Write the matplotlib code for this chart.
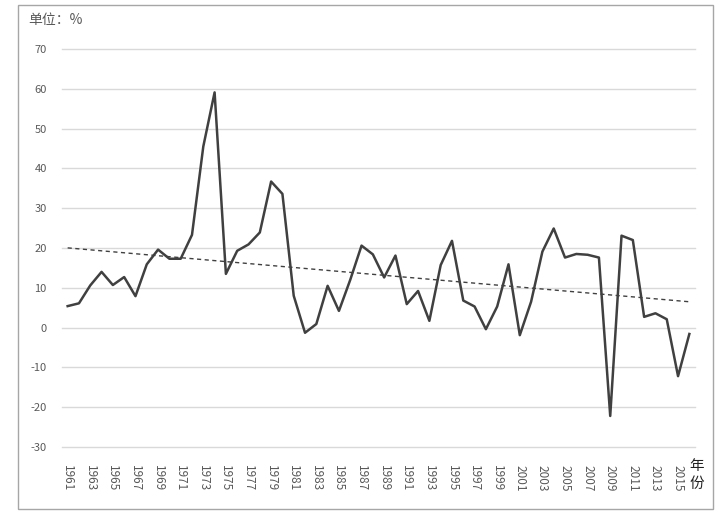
import numpy as np
import matplotlib
matplotlib.use("Agg")
import matplotlib.pyplot as plt
from matplotlib.patches import Rectangle

plt.rcParams['font.family'] = ['Noto Sans CJK SC', 'DejaVu Sans']

# yearly growth rate, %
years = list(range(1961, 2017))
values = [5.4, 6.1, 10.6, 14.0, 10.7, 12.7, 7.9, 15.9, 19.6, 17.3,
          17.3, 23.3, 45.5, 59.1, 13.5, 19.3, 20.9, 23.9, 36.7, 33.6,
          8.0, -1.3, 0.9, 10.5, 4.2, 12.0, 20.6, 18.4, 12.6, 18.1,
          5.9, 9.2, 1.7, 15.7, 21.8, 6.8, 5.3, -0.4, 5.3, 15.9,
          -1.9, 6.5, 19.1, 24.9, 17.6, 18.5, 18.3, 17.6, -22.2, 23.1,
          22.0, 2.7, 3.6, 2.1, -12.2, -1.6]
yticks = [-30, -20, -10, 0, 10, 20, 30, 40, 50, 60, 70]

x = np.arange(len(years))
# linear trend line, like excel's
coef = np.polyfit(x, values, 1)
trend = np.polyval(coef, x)

fig = plt.figure(figsize=(7.24, 5.18), dpi=100)
ax = fig.add_axes([62 / 724, 1 - 447 / 518, 633 / 724, 398 / 518])

for yt in yticks:
    ax.axhline(yt, color='#d9d9d9', lw=1.0, zorder=0, clip_on=False)

ax.plot(x, values, color='#404040', lw=1.8, zorder=3)
ax.plot(x, trend, color='#404040', lw=1.0, ls=(0, (3, 2.5)), zorder=2)

ax.set_xlim(-0.5, len(years) - 0.5)
ax.set_ylim(-30, 70)
ax.set_yticks(yticks)
ax.set_yticklabels([str(v) for v in yticks])
ax.set_xticks(x[::2])
ax.set_xticklabels([str(y) for y in years[::2]], rotation=-90)
ax.tick_params(axis='y', length=0, pad=11, labelsize=8, labelcolor='#595959')
ax.tick_params(axis='x', length=0, pad=13, labelsize=8.5, labelcolor='#595959')
for s in ax.spines.values():
    s.set_visible(False)

fig.text(28 / 724, 1 - 20 / 518, '单位：%', fontsize=10, color='#595959',
         ha='left', va='center')
fig.text(697 / 724, 1 - 466 / 518, '年', fontsize=10.5, color='#222222',
         ha='center', va='center')
fig.text(697 / 724, 1 - 484 / 518, '份', fontsize=10.5, color='#222222',
         ha='center', va='center')

fig.patches.append(Rectangle((18 / 724, 1 - 509 / 518), 695 / 724, 504 / 518,
                             transform=fig.transFigure, fill=False,
                             edgecolor='#a6a6a6', lw=1.0))

fig.savefig('out.png', dpi=100, facecolor='white')
